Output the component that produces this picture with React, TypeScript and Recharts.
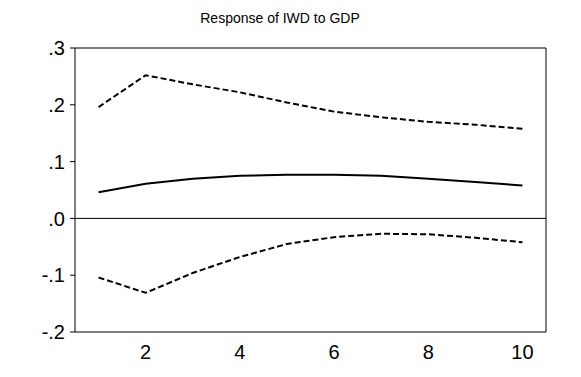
import { LineChart, Line, XAxis, YAxis, ReferenceLine } from 'recharts';

const periods = [1, 2, 3, 4, 5, 6, 7, 8, 9, 10];
const response = [0.046, 0.061, 0.070, 0.075, 0.077, 0.077, 0.075, 0.070, 0.064, 0.058];
const upperBand = [0.196, 0.252, 0.236, 0.222, 0.204, 0.188, 0.178, 0.170, 0.165, 0.158];
const lowerBand = [-0.104, -0.131, -0.096, -0.068, -0.045, -0.033, -0.027, -0.028, -0.034, -0.042];

const yTicks = [-0.2, -0.1, 0, 0.1, 0.2, 0.3];
const xLabelTicks = [2, 4, 6, 8, 10];
const xMarkTicks = [1.5, 2.5, 3.5, 4.5, 5.5, 6.5, 7.5, 8.5, 9.5];

const data = periods.map((p, i) => ({
  period: p,
  response: response[i],
  upper: upperBand[i],
  lower: lowerBand[i],
}));

const font = '"Liberation Sans", Arial, sans-serif';

const fmtY = (v: number) => v.toFixed(1).replace('0.', '.');

export default function App() {
  return (
    <div style={{ position: 'absolute', left: 0, top: 0, width: 581, height: 377, background: '#fff', fontFamily: font }}>
      <div
        style={{
          position: 'absolute',
          left: 0,
          width: 560,
          top: 10,
          textAlign: 'center',
          fontSize: 14,
          color: '#000',
        }}
      >
        Response of IWD to GDP
      </div>
      <LineChart width={581} height={377} data={data} margin={{ top: 48, right: 35, bottom: 0, left: 0 }}>
        <XAxis
          dataKey="period"
          type="number"
          domain={[0.5, 10.5]}
          ticks={xMarkTicks}
          tick={false}
          tickSize={4}
          height={6}
          stroke="#000"
          tickLine={{ stroke: '#000' }}
          allowDataOverflow
        />
        <XAxis
          xAxisId="labels"
          dataKey="period"
          type="number"
          domain={[0.5, 10.5]}
          ticks={xLabelTicks}
          axisLine={false}
          tickLine={false}
          height={39}
          tickSize={5}
          tickMargin={2}
          tick={{ fill: '#000', fontSize: 20, fontFamily: font }}
        />
        <YAxis
          type="number"
          domain={[-0.2, 0.3]}
          ticks={yTicks}
          width={75}
          tickFormatter={fmtY}
          tickSize={5}
          tickMargin={5}
          stroke="#000"
          tick={{ fill: '#000', fontSize: 20, fontFamily: font }}
          allowDataOverflow
        />
        <ReferenceLine y={0.3} stroke="#000" />
        <ReferenceLine x={10.5} stroke="#000" />
        <ReferenceLine y={0} stroke="#000" />
        <Line dataKey="upper" stroke="#000" strokeWidth={2} strokeDasharray="6 3" dot={false} isAnimationActive={false} type="linear" />
        <Line dataKey="response" stroke="#000" strokeWidth={2} dot={false} isAnimationActive={false} type="linear" />
        <Line dataKey="lower" stroke="#000" strokeWidth={2} strokeDasharray="6 3" dot={false} isAnimationActive={false} type="linear" />
      </LineChart>
    </div>
  );
}
